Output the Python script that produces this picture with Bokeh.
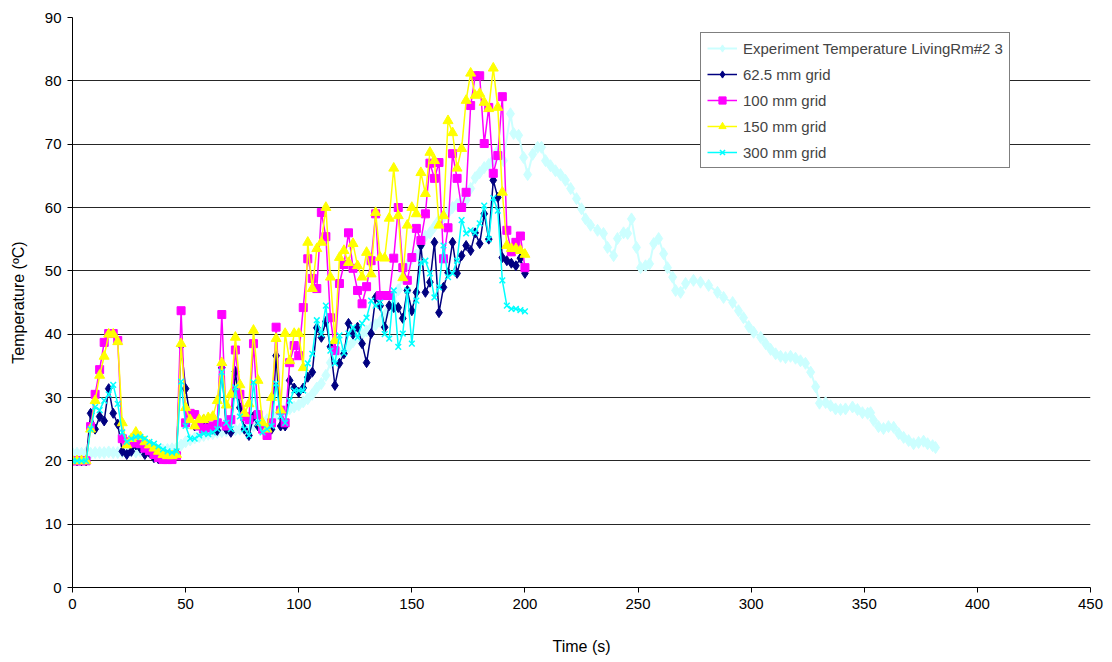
from bokeh.plotting import figure
from bokeh.models import Range1d, Legend, LegendItem, FixedTicker
from bokeh.embed import file_html
from bokeh.resources import INLINE

# ---------------- data ----------------
t_sim = list(range(0, 202, 2))

g625 = [20, 20, 20, 20, 27.5, 25, 27, 26.3, 31.4, 27.5,
        25.8, 21.5, 21, 21.5, 22.5, 22, 21, 21.3, 20.5, 20.3,
        20.3, 20.4, 20.6, 21.2, 38.2, 31.4, 27, 25.5, 26, 26.5,
        25.5, 25, 24.8, 34.7, 25, 24.5, 34.1, 28.4, 25, 24,
        27, 25.5, 25, 24.5, 25, 36.6, 25.5, 25.5, 32.7, 31.5,
        30.8, 31.5, 33.2, 34, 41, 39.5, 42, 38, 31.9, 35.4,
        36.9, 41.7, 40, 41.1, 38.5, 35.5, 40.1, 45.8, 44.5, 41.1,
        44.5, 44.2, 44.2, 42.5, 46.9, 43.7, 46.6, 54, 46.6, 48.2,
        54.5, 43.4, 47.4, 49.7, 54.5, 49.6, 52.4, 54, 53.2, 56,
        54.3, 59, 55, 64.3, 61.6, 52.1, 51.6, 51.2, 50.8, 52,
        49.6]

g100 = [20, 20, 20, 20, 25.4, 30.5, 34.4, 38.7, 40.1, 40.1,
        39, 23.5, 23, 22.9, 22.8, 22.7, 22, 21.6, 21, 20.5,
        20.2, 20.2, 20.2, 20.8, 43.7, 26, 27.5, 27.3, 25.5, 25,
        25.2, 25.5, 26, 43.1, 25.5, 26.5, 37.5, 30.5, 27, 26.5,
        38.5, 27.3, 25, 24, 26, 41.1, 28, 26, 35.5, 38.2,
        36.6, 44.2, 51.9, 48.8, 47.2, 59.2, 55.4, 42.6, 37.4, 48,
        51, 56, 50.4, 46.9, 44.8, 47.5, 51.6, 59, 46.1, 46.1,
        46.1, 52, 60, 50.5, 48.5, 52.1, 56.7, 54.8, 59, 67,
        64.6, 67.1, 51.9, 56.8, 68.5, 64.6, 60, 62.4, 76.1, 80.8,
        80.8, 70.1, 75.8, 65.4, 68.2, 77.5, 56.4, 53, 54.5, 55.5,
        50.5]

g150 = [20, 20, 20, 20, 25, 29.5, 33.5, 36.5, 40, 40,
        38.8, 26, 22.5, 23.5, 24.5, 23.8, 23, 22.5, 22, 21.5,
        21, 20.8, 20.8, 21, 38.5, 28.4, 26.5, 25.5, 26.5, 26.5,
        26.8, 27, 29.5, 35.5, 28.8, 30.5, 39.5, 32, 27.5, 29,
        40.6, 32.7, 26, 25, 30, 39.3, 28, 40.1, 35.8, 40.1,
        40.1, 34.7, 54.5, 47.2, 53.5, 54.5, 60, 49, 39, 52.1,
        53.2, 51.3, 54.3, 50.8, 49, 52.9, 49.5, 59.2, 52.1, 52,
        58.3, 66.2, 58.7, 48.9, 57.2, 60, 59, 65.5, 62.2, 68.7,
        67.4, 57.2, 58.7, 73.7, 71.8, 66.2, 69.3, 76.9, 81.2, 77.7,
        78, 76.6, 75.6, 82, 75.8, 62.4, 54, 53.5, 53.5, 53.2,
        52.6]

g300 = [20, 20, 20, 20, 25, 28.5, 28, 29.5, 30.5, 32,
        29, 24.5, 23, 23.5, 23.8, 23.8, 23.5, 23, 22.7, 22.3,
        21.8, 21.5, 21.3, 21.5, 32.5, 25.5, 23.5, 23.5, 24, 24.3,
        24.2, 24.5, 25, 34, 26, 25, 31.6, 27, 25, 24,
        32.4, 26, 24.5, 25, 25.5, 32.2, 27, 26, 29.5, 31.1,
        31.1, 31.1, 35.4, 36.9, 42.2, 40, 44.5, 37.4, 35.4, 39.8,
        37, 40.1, 41.1, 39.5, 41.7, 42.6, 45.3, 44.5, 45, 40,
        39.3, 46.9, 38, 40.1, 46.9, 38.5, 45.3, 51.3, 51.6, 49.6,
        45.8, 47.4, 54, 49, 49.6, 51.6, 58, 55.9, 56.4, 56,
        57.5, 60.3, 55, 61.5, 59.5, 48.5, 44.5, 44, 44, 43.8,
        43.6]

exp_t = (list(range(0, 190, 2)) +
         [190.5, 193.6, 195, 197.2, 199.4, 201.2, 203.4, 205.6, 207.3, 209.1, 211.3,
          213.5, 215.7, 217.9, 220.2, 222.8, 225, 226.8, 229, 232.1, 234.7,
          236.5, 239.2, 240.9, 243.6, 245.4, 247.1, 249.3, 251.1, 253.3, 255.1,
          256.9, 259.1, 261.3, 263, 265.3, 266.6, 268.8, 271, 274.5, 277.6,
          281.2, 285.1, 287.8, 291.8, 294.4, 296.6, 298.9, 301.1, 304.2, 306.4,
          308.6, 310.8, 313, 315.2, 317.4, 319.6, 321.8, 324, 326.3, 328.5,
          330.2, 332.9, 335.1, 337.3, 339.5, 341.7, 344.8, 347, 349.2, 351.5,
          352.8, 354.1, 356.3, 358.5, 360.7, 363, 365.2, 367.4, 369.6, 371.8,
          374, 376.2, 378, 380.2, 381.5])

exp_v = [21.2, 21.2, 21.2, 21.3, 21.2, 21.3, 21.3, 21.3, 21.4, 21.3, 21.3, 21.4,
         21.4, 21.5, 21.4, 21.5, 21.5, 21.6, 21.6, 21.7, 21.7, 21.8, 21.9, 22.0,
         22.5, 23, 23.3, 23.6, 23.8, 24, 24.2, 24.3, 24.5, 24.6, 24.7, 24.8, 24.9,
         25, 25.1, 25.3, 25.5, 25.8, 26.2, 26.5, 26.8, 27.2, 27.5, 27.8, 28.2, 28.5,
         28.8, 29.3, 29.8, 30.5, 31.5, 32.2, 33.5, 35.5, 36.5, 37, 37.5, 38, 38.8,
         39.5, 40, 40.5, 41, 41.5, 42, 43, 44, 45, 47, 49, 51,
         52, 52.5, 54, 55.5, 56, 57, 58, 58.5, 59.2, 60, 60.5, 61, 61.2, 63, 64.7,
         65.5, 66.3, 66.8, 67.5, 69,
         67.4,
         74.8, 71.7, 71.4, 67.9, 65.2, 68.4, 69.5, 69.5, 67.4, 66.6,
         65.8, 65.2, 64.3, 63, 61.4, 59.8, 58.2, 57.2, 56.4, 55.9,
         53.7, 52.4, 55.1, 56, 55.9, 58.2, 53.7, 50.5, 50.8, 51.1,
         54.3, 55.1, 52.7, 50.5, 49, 46.9, 46.6, 48, 48.5, 48.2,
         47.7, 46.6, 45.8, 45, 43.7, 42.6, 41.2, 40.3, 39.5, 38.5,
         37.6, 36.9, 36.5, 36.3, 36.5, 36.2, 35.8, 35.4, 34, 31.7,
         29.1, 29.2, 28.7, 28.2, 28.1, 28.2, 28.5, 28.1, 27.6, 27.5,
         27.6, 26.4, 25.4, 25.1, 25.4, 25.3, 24.3, 23.7, 23.2, 22.7,
         22.9, 23.1, 22.7, 22.4, 22.1]

labels = ["Experiment Temperature LivingRm#2 3", "62.5 mm grid",
          "100 mm grid", "150 mm grid", "300 mm grid"]
x_ticks = [0, 50, 100, 150, 200, 250, 300, 350, 400, 450]
y_ticks = [0, 10, 20, 30, 40, 50, 60, 70, 80, 90]

FONT = "Liberation Sans"

p = figure(width=1112, height=662, output_backend="svg", toolbar_location=None,
           x_range=Range1d(0, 450), y_range=Range1d(0, 90),
           min_border_left=72, min_border_right=22, min_border_top=17,
           min_border_bottom=75)
p.outline_line_color = None
p.background_fill_color = "white"
p.border_fill_color = "white"

p.xgrid.visible = False
p.ygrid.grid_line_color = "black"
p.ygrid.grid_line_width = 1
p.ygrid.grid_line_alpha = 0.85

for ax in (p.xaxis[0], p.yaxis[0]):
    ax.axis_line_color = "black"
    ax.major_tick_line_color = "black"
    ax.major_tick_out = 5
    ax.major_tick_in = 0
    ax.minor_tick_line_color = None
    ax.major_label_text_font = FONT
    ax.major_label_text_font_size = "15px"
    ax.major_label_text_color = "black"
    ax.axis_label_text_font = FONT
    ax.axis_label_text_font_size = "16px"
    ax.axis_label_text_font_style = "normal"
    ax.axis_label_text_color = "black"
p.xaxis.ticker = FixedTicker(ticks=x_ticks)
p.yaxis.ticker = FixedTicker(ticks=y_ticks)
p.xaxis.axis_label = "Time (s)"
p.yaxis.axis_label = "Temperature (ºC)"
p.xaxis.axis_label_standoff = 26
p.yaxis.axis_label_standoff = 15
p.xaxis.major_label_standoff = 6
p.yaxis.major_label_standoff = 6

items = []
# experiment
c0 = "#CCFFFF"
l0 = p.line(exp_t, exp_v, line_color=c0, line_width=2)
s0 = p.scatter(exp_t, exp_v, marker="diamond", size=12, fill_color=c0, line_color=c0)
items.append(LegendItem(label=labels[0], renderers=[l0, s0]))

specs = [(g625, "#000080", "diamond", 10), (g100, "#FF00FF", "square", 8),
         (g150, "#FFFF00", "triangle", 10), (g300, "#00FFFF", "x", 8)]
for (vals, col, mk, sz), lab in zip(specs, labels[1:]):
    lr = p.line(t_sim, vals, line_color=col, line_width=1.5)
    if mk == "x":
        sr = p.scatter(t_sim, vals, marker=mk, size=sz, line_color=col, line_width=1.5)
    else:
        sr = p.scatter(t_sim, vals, marker=mk, size=sz, fill_color=col, line_color=col)
    items.append(LegendItem(label=lab, renderers=[lr, sr]))

legend = Legend(items=items, location=(628, 419))
legend.border_line_color = "black"
legend.border_line_width = 1
legend.background_fill_color = "white"
legend.background_fill_alpha = 1
legend.label_text_font = FONT
legend.label_text_font_size = "15px"
legend.glyph_width = 30
legend.glyph_height = 18
legend.label_height = 18
legend.spacing = 8
legend.padding = 6
legend.margin = 0
legend.label_standoff = 6
p.add_layout(legend, "center")

open("out.html", "w").write(file_html(p, INLINE))
